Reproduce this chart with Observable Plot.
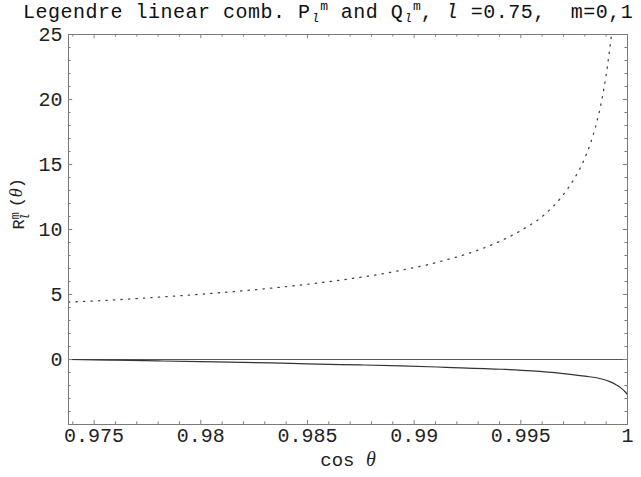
<!DOCTYPE html>
<html><head><meta charset="utf-8">
<script src="https://cdn.jsdelivr.net/npm/d3@7"></script>
<script src="https://cdn.jsdelivr.net/npm/@observablehq/plot@0.6"></script>
<style>
body{margin:0;background:#fff;}
#title{font-family:"Liberation Mono",monospace;font-size:20px;line-height:18px;height:22px;box-sizing:border-box;padding-top:4px;padding-left:23px;white-space:pre;color:#111;letter-spacing:0.5px;}
#title .s{font-size:13px;position:relative;letter-spacing:0;line-height:10px;}
</style></head><body>
<div id="title">Legendre linear comb. P<span class="s" style="top:4px;font-style:italic;margin-left:1px">l</span><span class="s" style="top:-8px;margin-left:1px">m</span> and Q<span class="s" style="top:4px;font-style:italic;margin-left:1px">l</span><span class="s" style="top:-8px;margin-left:1px">m</span>, <i>l</i> =0.75,  m=0,1</div>
<div id="chart"></div>
<script>
// axis ticks
const xMajor = [0.975, 0.98, 0.985, 0.99, 0.995, 1];
const xTickLabels = ["0.975", "0.98", "0.985", "0.99", "0.995", "1"];
const xMinor = [0.974, 0.976, 0.977, 0.978, 0.979, 0.981, 0.982, 0.983, 0.984, 0.986, 0.987, 0.988, 0.989, 0.991, 0.992, 0.993, 0.994, 0.996, 0.997, 0.998, 0.999];
const yMajor = [0, 5, 10, 15, 20, 25];
const yTickLabels = ["0", "5", "10", "15", "20", "25"];
const yMinor = [-4, -3, -2, -1, 1, 2, 3, 4, 6, 7, 8, 9, 11, 12, 13, 14, 16, 17, 18, 19, 21, 22, 23, 24];

// dotted series
const xDotted = [0.9738, 0.975, 0.977, 0.979, 0.981, 0.983, 0.985, 0.987, 0.989, 0.991, 0.993, 0.994, 0.995, 0.996, 0.997, 0.9975, 0.998, 0.9985, 0.9988, 0.999, 0.99925];
const yDotted = [4.42, 4.50, 4.69, 4.90, 5.15, 5.44, 5.79, 6.21, 6.74, 7.44, 8.42, 9.08, 9.92, 11.0, 12.7, 13.9, 15.5, 17.9, 20.0, 21.9, 25.0];

// solid series
const xSolid = [0.9738, 0.976, 0.978, 0.980, 0.9833, 0.985, 0.9875, 0.9894, 0.9915, 0.9941, 0.9955, 0.9969, 0.998, 0.9988, 0.9992, 0.9995, 0.9997, 0.9999, 1.0];
const ySolid = [0.0, -0.05, -0.11, -0.17, -0.26, -0.33, -0.42, -0.49, -0.6, -0.75, -0.87, -1.06, -1.28, -1.5, -1.72, -1.98, -2.2, -2.5, -2.7];

const xLabel = "cos θ";
const yLabel = "R(θ)";

const dotted = xDotted.map((x, i) => ({x, y: yDotted[i]}));
const solid = xSolid.map((x, i) => ({x, y: ySolid[i]}));

const W = 641, H = 455;
const mL = 68, mR = 14, mT = 12, mB = 53;
const fw = W - mL - mR, fh = H - mT - mB;
const major = 4.2, minor = 2.6;
const tickColor = "#808080";
const mono = "Liberation Mono, monospace";

const plot = Plot.plot({
  width: W, height: H,
  marginLeft: mL, marginRight: mR, marginTop: mT, marginBottom: mB,
  style: {fontFamily: mono, fontSize: "20px", overflow: "visible", background: "white"},
  x: {domain: [0.9738, 1], label: null},
  y: {domain: [-5, 25], label: null},
  marks: [
    Plot.ruleY([0], {stroke: "#555", strokeWidth: 1}),
    Plot.line(dotted, {x: "x", y: "y", stroke: "#444", strokeWidth: 1.3, strokeDasharray: "1.3,6.2", curve: "monotone-x"}),
    Plot.line(solid, {x: "x", y: "y", stroke: "#333", strokeWidth: 1.2, curve: "monotone-x"}),
    // inward ticks, four sides
    Plot.ruleX(xMajor, {x: d => d, insetTop: fh - major, stroke: tickColor}),
    Plot.ruleX(xMinor, {x: d => d, insetTop: fh - minor, stroke: tickColor}),
    Plot.ruleX(xMajor, {x: d => d, insetBottom: fh - major, stroke: tickColor}),
    Plot.ruleX(xMinor, {x: d => d, insetBottom: fh - minor, stroke: tickColor}),
    Plot.ruleY(yMajor, {y: d => d, insetRight: fw - major, stroke: tickColor}),
    Plot.ruleY(yMinor, {y: d => d, insetRight: fw - minor, stroke: tickColor}),
    Plot.ruleY(yMajor, {y: d => d, insetLeft: fw - major, stroke: tickColor}),
    Plot.ruleY(yMinor, {y: d => d, insetLeft: fw - minor, stroke: tickColor}),
    Plot.axisX(xMajor, {tickSize: 0, tickPadding: 3, tickFormat: d => xTickLabels[xMajor.indexOf(d)], fill: "#222", fontSize: 20}),
    Plot.axisY(yMajor, {tickSize: 0, tickPadding: 6, tickFormat: d => yTickLabels[yMajor.indexOf(d)], fill: "#222", fontSize: 20}),
    Plot.frame({stroke: "#7a7a7a", strokeWidth: 1}),
    Plot.text([xLabel], {frameAnchor: "bottom", dy: 41, text: d => d, fontSize: 19, fill: "#222"}),
    Plot.text([yLabel], {frameAnchor: "left", dx: -50, rotate: -90, text: d => d, fontSize: 17, fill: "#222"})
  ]
});
document.getElementById("chart").appendChild(plot);

// rich text for axis labels
const svg = d3.select(plot);
const byText = t => svg.selectAll("text").filter(function () { return this.textContent === t; });
const xl = byText(xLabel);
xl.text(null);
xl.append("tspan").text("cos ");
xl.append("tspan").attr("font-family", "Liberation Serif, serif").attr("font-style", "italic").attr("font-size", 20).text("θ");
const yl = byText(yLabel);
yl.text(null);
yl.append("tspan").text("R");
yl.append("tspan").attr("font-size", 12).attr("dy", "-0.45em").text("m");
yl.append("tspan").attr("font-size", 12).attr("font-style", "italic").attr("dx", "-0.7em").attr("dy", "0.85em").text("l");
yl.append("tspan").attr("dy", "-0.4em").attr("dx", "0.35em").text("(");
yl.append("tspan").attr("font-family", "Liberation Serif, serif").attr("font-style", "italic").attr("font-size", 18).text("θ");
yl.append("tspan").text(")");
</script>
</body></html>
